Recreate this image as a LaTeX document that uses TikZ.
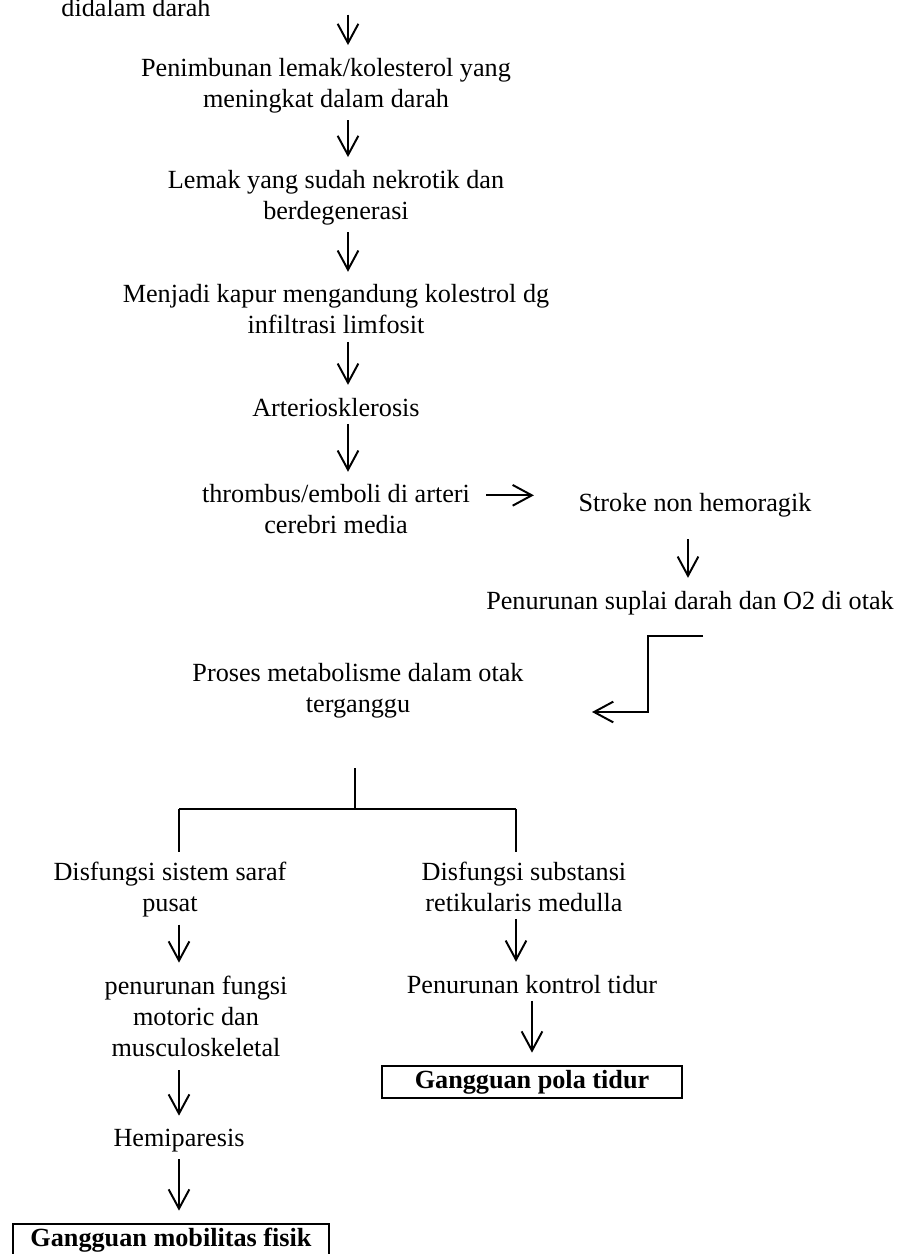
\documentclass[tikz,border=0pt]{standalone}
\usepackage{fontspec}
\setmainfont{Liberation Serif}
\usetikzlibrary{arrows.meta}
\tikzset{
  arr/.style={-{Straight Barb[length=8.8pt,width=9.5pt]}, shorten <=3pt, shorten >=5.5pt},
  lbox/.style={draw, font=\fontsize{12pt}{14.2pt}\selectfont\bfseries, minimum height=15pt}
}
\begin{document}
\begin{tikzpicture}[x=0.458pt, y=-0.458pt, line width=0.9pt,
  every node/.style={align=center, inner sep=0pt, font=\fontsize{12pt}{14.2pt}\selectfont}]
  \useasboundingbox (0,0) rectangle (922,1254);

  % main column
  \node [anchor=base] at (136,16) (did) {didalam darah};
  \node at (326,85.5) (pen) {Penimbunan lemak/kolesterol yang\\meningkat dalam darah};
  \node at (336,197.5) (lemak) {Lemak yang sudah nekrotik dan\\berdegenerasi};
  \node at (336,309.5) (kapur) {Menjadi kapur mengandung kolestrol dg\\infiltrasi limfosit};
  \node [anchor=base] at (336,416) (arte) {Arteriosklerosis};
  \node at (336,509.5) (thr) {thrombus/emboli di arteri\\cerebri media};

  \node [anchor=base] at (695,511) (stroke) {Stroke non hemoragik};
  \node [anchor=base] at (690,609) (suplai) {Penurunan suplai darah dan O2 di otak};
  \node at (358,690.5) (proses) {Proses metabolisme dalam otak\\terganggu};

  % branches
  \node at (170,889.5) (sss) {Disfungsi sistem saraf\\pusat};
  \node at (524,886.5) (srm) {Disfungsi substansi\\retikularis medulla};
  \node at (196,1016) (motor) {penurunan fungsi\\motoric dan\\musculoskeletal};
  \node [anchor=base] at (532,993) (tidur) {Penurunan kontrol tidur};
  \node [lbox, minimum width=137pt] at (532,1082) (pola) {Gangguan pola tidur};
  \node [anchor=base] at (179,1146) (hemi) {Hemiparesis};
  \node [lbox, minimum width=144.7pt] at (171,1240) (mob) {Gangguan mobilitas fisik};

  \coordinate (c) at (348,0);
  \coordinate (start) at (348,8);
  \coordinate (cs) at (688,0);
  \coordinate (el) at (703,636);
  \coordinate (tip) at (592,712);
  \coordinate (fork) at (355,809);
  \coordinate (fl) at (179,809);
  \coordinate (fr) at (516,809);

  \draw [arr] (start) -- (pen.north -| start);
  \draw [arr] (pen.south -| c) -- (lemak.north -| c);
  \draw [arr] (lemak.south -| c) -- (kapur.north -| c);
  \draw [arr] (kapur.south -| c) -- (arte.north -| c);
  \draw [arr] (arte.south -| c) -- (thr.north -| c);
  \draw [arr, shorten <=7pt, shorten >=20pt] ([yshift=6.5pt]thr.east) -- ([yshift=6.5pt]thr.east -| stroke.west);
  \draw [arr, shorten <=10pt] (stroke.south -| cs) -- (suplai.north -| cs);
  \draw [arr, shorten <=0pt, shorten >=0pt] (el) -- ++(-55,0) |- (tip);

  % tree
  \draw ([yshift=-22.5pt]proses.south -| fork) -- (fork);
  \draw (fl) -- (fr);
  \draw (fl) -- ([yshift=4pt]sss.north -| fl);
  \draw (fr) -- ([yshift=4pt]srm.north -| fr);

  \draw [arr] (sss.south -| fl) -- (motor.north -| fl);
  \draw [arr, shorten <=6pt] (motor.south -| fl) -- (hemi.north -| fl);
  \draw [arr] (hemi.south -| fl) -- (mob.north -| fl);
  \draw [arr] (srm.south -| fr) -- (tidur.north -| fr);
  \draw [arr] (tidur.south) -- (pola.north);

\end{tikzpicture}
\end{document}
